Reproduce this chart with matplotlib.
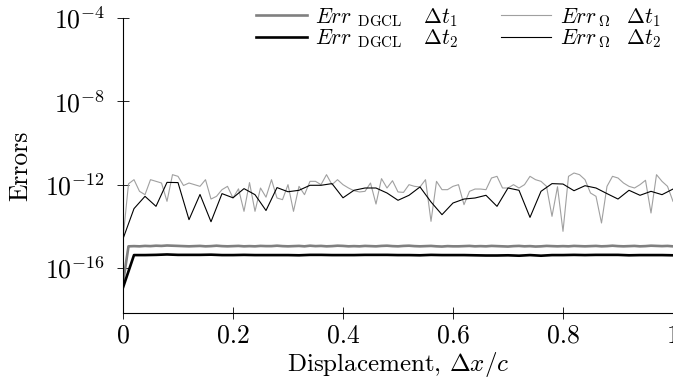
import numpy as np
import matplotlib
matplotlib.use('Agg')
import matplotlib.pyplot as plt
from matplotlib.ticker import FixedLocator, FuncFormatter, NullLocator

plt.rcParams['font.family'] = 'serif'
plt.rcParams['font.serif'] = ['cmr10']
plt.rcParams['mathtext.fontset'] = 'cm'
plt.rcParams['axes.formatter.use_mathtext'] = True

# displacement samples for the two time steps
x_dt1 = np.linspace(0.0, 1.0, 101)
x_dt2 = np.linspace(0.0, 1.0, 51)

# log10 of the errors
log_err_omega_dt1 = [
    -14.6, -11.96, -11.76, -12.32, -12.48, -11.76, -11.84, -11.92, -12.80, -11.52,
    -11.60, -12.04, -11.92, -12.00, -12.08, -11.76, -12.69, -12.56, -12.24, -12.08,
    -12.64, -12.20, -13.28, -11.90, -13.28, -12.16, -12.60, -11.76, -12.64, -12.72,
    -12.00, -13.28, -12.08, -12.48, -11.84, -11.84, -12.00, -11.52, -12.00, -11.76,
    -12.00, -12.16, -12.29, -12.35, -12.32, -11.92, -12.93, -11.71, -12.16, -11.81,
    -12.35, -12.37, -12.00, -12.08, -12.11, -11.76, -13.76, -11.84, -12.24, -12.24,
    -12.08, -12.00, -12.96, -12.32, -12.21, -12.21, -12.24, -11.68, -11.60, -12.16,
    -12.16, -12.00, -12.16, -12.00, -11.60, -11.76, -11.84, -12.08, -13.52, -12.10,
    -14.24, -11.60, -11.44, -11.52, -11.76, -12.40, -12.56, -13.84, -12.08, -11.60,
    -11.68, -11.92, -12.08, -12.16, -12.00, -11.79, -13.36, -11.52, -11.84, -12.08,
    -12.80,
]
log_err_omega_dt2 = [
    -14.6, -13.15, -12.56, -13.04, -11.89, -11.90, -13.68, -12.47, -13.78, -12.43,
    -12.63, -12.19, -12.48, -13.24, -12.14, -12.34, -12.27, -12.03, -12.03, -11.95,
    -12.63, -12.27, -12.16, -12.16, -12.40, -12.75, -12.51, -12.11, -12.83, -13.44,
    -12.88, -12.69, -12.64, -12.51, -13.04, -12.16, -12.27, -13.57, -12.32, -11.95,
    -11.97, -12.29, -12.05, -12.16, -12.43, -12.69, -12.27, -12.51, -12.32, -12.48,
    -12.21,
]
log_err_dgcl_dt1 = [
    -16.72, -14.96, -14.95, -14.96, -14.94, -14.95, -14.93, -14.94, -14.92, -14.93,
    -14.94, -14.95, -14.96, -14.95, -14.94, -14.96, -14.95, -14.93, -14.95, -14.96,
    -14.95, -14.94, -14.96, -14.95, -14.96, -14.94, -14.95, -14.95, -14.93, -14.95,
    -14.96, -14.95, -14.94, -14.96, -14.93, -14.95, -14.94, -14.96, -14.95, -14.93,
    -14.94, -14.96, -14.95, -14.96, -14.94, -14.95, -14.96, -14.94, -14.93, -14.95,
    -14.96, -14.94, -14.93, -14.95, -14.96, -14.95, -14.94, -14.96, -14.97, -14.95,
    -14.96, -14.96, -14.95, -14.94, -14.96, -14.95, -14.96, -14.94, -14.95, -14.96,
    -14.97, -14.95, -14.94, -14.96, -14.95, -14.97, -14.96, -14.94, -14.95, -14.96,
    -14.95, -14.96, -14.94, -14.95, -14.96, -14.95, -14.94, -14.96, -14.95, -14.93,
    -14.95, -14.96, -14.95, -14.94, -14.96, -14.95, -14.93, -14.94, -14.95, -14.94,
    -14.96,
]
log_err_dgcl_dt2 = [
    -16.94, -15.38, -15.38, -15.37, -15.35, -15.37, -15.37, -15.37, -15.36, -15.38,
    -15.38, -15.37, -15.38, -15.38, -15.38, -15.38, -15.39, -15.37, -15.37, -15.38,
    -15.38, -15.38, -15.37, -15.37, -15.37, -15.38, -15.38, -15.39, -15.37, -15.38,
    -15.38, -15.38, -15.39, -15.40, -15.40, -15.39, -15.41, -15.38, -15.41, -15.38,
    -15.38, -15.37, -15.38, -15.37, -15.37, -15.37, -15.39, -15.38, -15.38, -15.38,
    -15.39,
]

legend_labels = [
    r'$Err_{\;\;\mathrm{DGCL}}\;\;\;\;\Delta t_1$',
    r'$Err_{\;\;\mathrm{DGCL}}\;\;\;\;\Delta t_2$',
    r'$Err_{\;\Omega}\;\;\;\Delta t_1$',
    r'$Err_{\;\Omega}\;\;\;\Delta t_2$',
]
y_ticks = [1e-16, 1e-12, 1e-8, 1e-4]
x_ticks = [0, 0.2, 0.4, 0.6, 0.8, 1.0]

fig = plt.figure(figsize=(6.73, 3.79), dpi=100)
ax = fig.add_axes([123 / 673, 1 - 313 / 379, 1 - 123 / 673, 295 / 379])

ax.plot(x_dt1, 10.0 ** np.array(log_err_dgcl_dt1), color='#808080', lw=1.9,
        label=legend_labels[0])
ax.plot(x_dt2, 10.0 ** np.array(log_err_dgcl_dt2), color='black', lw=1.9,
        label=legend_labels[1])
ax.plot(x_dt1, 10.0 ** np.array(log_err_omega_dt1), color='#a0a0a0', lw=0.8,
        label=legend_labels[2])
ax.plot(x_dt2, 10.0 ** np.array(log_err_omega_dt2), color='black', lw=0.8,
        label=legend_labels[3])

ax.set_yscale('log')
ax.set_xlim(0, 1)
ax.set_ylim(10 ** -18.16, 1e-4)
ax.yaxis.set_major_locator(FixedLocator(y_ticks))
ax.yaxis.set_minor_locator(NullLocator())
ax.yaxis.set_major_formatter(FuncFormatter(
    lambda v, pos: r'$10^{%d}$' % int(round(np.log10(v)))))
ax.xaxis.set_major_locator(FixedLocator(x_ticks))
ax.xaxis.set_major_formatter(FuncFormatter(
    lambda v, pos: '%g' % v))

for side in ['top', 'right']:
    ax.spines[side].set_visible(False)
for side in ['left', 'bottom']:
    ax.spines[side].set_linewidth(0.8)
ax.tick_params(direction='inout', length=8, width=0.6, labelsize=18.5)
ax.tick_params(axis='x', pad=4)
ax.tick_params(axis='y', pad=9)

ax.set_xlabel(r'Displacement, $\Delta x/c$', fontsize=18)
ax.set_ylabel('Errors', fontsize=18.5)
ax.xaxis.set_label_coords(0.5, -0.125)
ax.yaxis.set_label_coords(-0.165, 0.5)

ax.legend(loc='upper right', bbox_to_anchor=(0.994, 1.07), ncol=2, frameon=False,
          fontsize=15.5, handlelength=2.35, handletextpad=0.38, columnspacing=2.0,
          labelspacing=-0.04, borderaxespad=0.0)

fig.savefig('out.png', dpi=100)
